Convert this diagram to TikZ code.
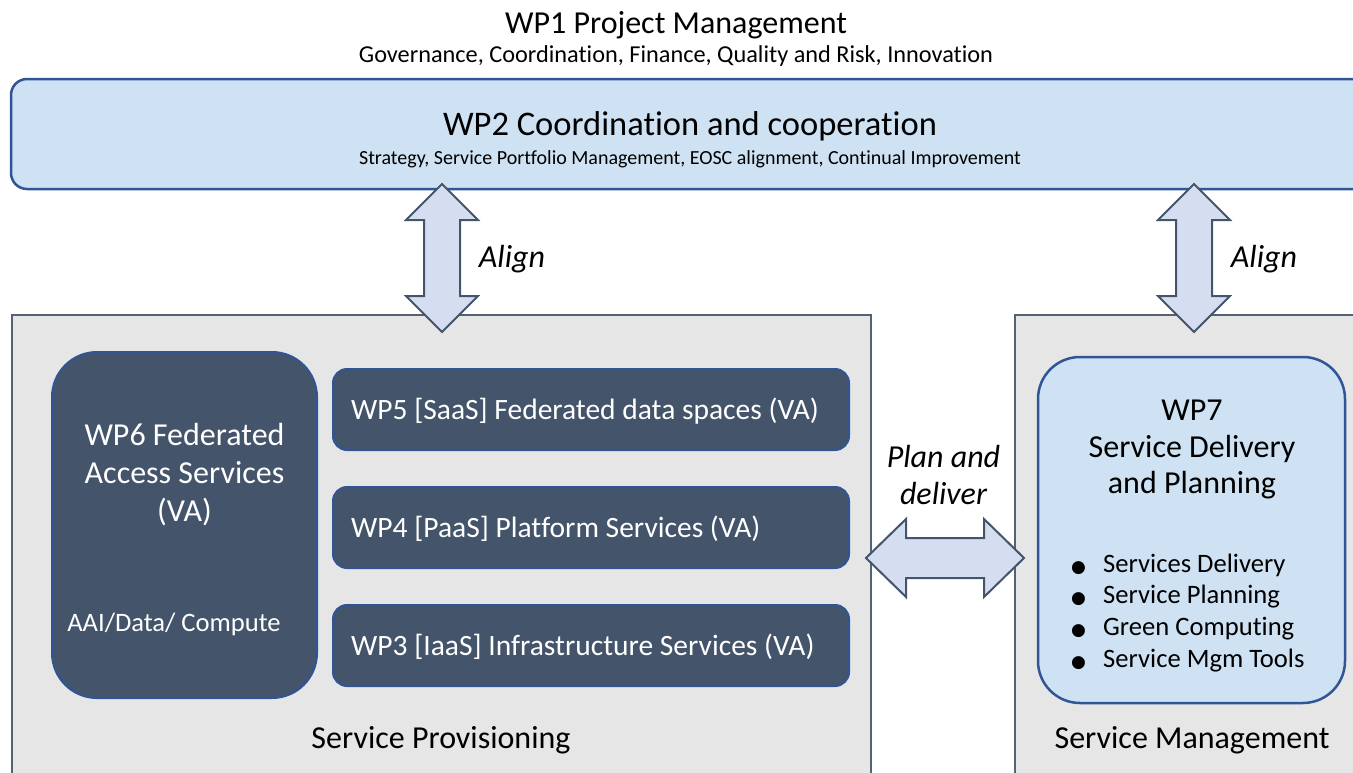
\documentclass[tikz,border=0pt]{standalone}
\usepackage{fontspec}
\setmainfont{Carlito}[Ligatures=NoCommon]
\newfontfamily\bulletfont{DejaVu Sans}
\usepackage{tikz}

\definecolor{wplight}{RGB}{207,226,243}
\definecolor{wpedge}{RGB}{47,85,151}
\definecolor{wpdark}{RGB}{68,84,106}
\definecolor{wpgrey}{RGB}{230,230,230}
\definecolor{greyedge}{RGB}{85,97,117}
\definecolor{arrowfill}{RGB}{213,222,240}

\tikzset{
  greybox/.style={draw=greyedge,fill=wpgrey,line width=1.5,inner sep=0},
  lightbox/.style={draw=wpedge,fill=wplight,line width=2.5,inner sep=0},
  darkbox/.style={draw=wpedge,fill=wpdark,line width=2,inner sep=0},
  blockarrow/.style={draw=wpdark,fill=arrowfill,line width=2,line join=miter},
  bigtext/.style={inner sep=0,font=\fontsize{32}{38}\selectfont},
  subtext/.style={inner sep=0,font=\fontsize{20}{24}\selectfont},
  boxtext/.style={inner sep=0,text=white,font=\fontsize{29.5}{35}\selectfont},
  itemtext/.style={inner sep=0,font=\fontsize{26.6}{32}\selectfont}
}

\begin{document}
\begin{tikzpicture}[x=1pt,y=1pt,yscale=-1,xscale=1]
\useasboundingbox (0,0) rectangle (1353,772);
\clip (0,0) rectangle (1353,772);

%Shape: Rounded Rect [WP2]
\node[lightbox, rounded corners=16, minimum width=1360, minimum height=110] (coord) at (691,134) {};
%Shape: Rectangle [provisioning]
\node[greybox, minimum width=859, minimum height=485] (prov) at (441.5,557.5) {};
%Shape: Rectangle [management]
\node[greybox, minimum width=365, minimum height=485] (mgmt) at (1197.5,557.5) {};

%Shape: Rounded Rect [WP6]
\node[darkbox, rounded corners=45, minimum width=265, minimum height=346] (wpsix) at (184.5,525) {};
%Shape: Rounded Rect [WP5]
\node[darkbox, rounded corners=14, minimum width=516, minimum height=81] (wpfive) at (591,409.5) {};
%Shape: Rounded Rect [WP4]
\node[darkbox, rounded corners=14, minimum width=516, minimum height=81] (wpfour) at (591,527.5) {};
%Shape: Rounded Rect [WP3]
\node[darkbox, rounded corners=14, minimum width=516, minimum height=81] (wpthree) at (591,645.5) {};
%Shape: Rounded Rect [WP7]
\node[lightbox, rounded corners=42, minimum width=307, minimum height=346] (wpseven) at (1191.5,530) {};

%Shape: Up Down Arrow [align left]
\draw[blockarrow] (442,184) -- (478,220) -- (460,220) -- (460,296) -- (478,296) -- (442,332) -- (406,296) -- (424,296) -- (424,220) -- (406,220) -- cycle;
%Shape: Up Down Arrow [align right]
\draw[blockarrow] (1194,184) -- (1230,220) -- (1212,220) -- (1212,296) -- (1230,296) -- (1194,332) -- (1158,296) -- (1176,296) -- (1176,220) -- (1158,220) -- cycle;
%Shape: Left Right Arrow [plan and deliver]
\draw[blockarrow] (866,558) -- (906,519) -- (906,538) -- (984,538) -- (984,519) -- (1024,558) -- (984,597) -- (984,578) -- (906,578) -- (906,597) -- cycle;

% Text Node
\node[bigtext, anchor=base] (wponetitle) at (676,33) {WP1 Project Management};
% Text Node
\node[subtext, font=\fontsize{24.3}{29}\selectfont, anchor=base] (wponesub) at (676,62) {Governance, Coordination, Finance, Quality and Risk, Innovation};
% Text Node
\node[bigtext, font=\fontsize{34.5}{41}\selectfont, anchor=base] (wptwotitle) at (690,135) {WP2 Coordination and cooperation};
% Text Node
\node[subtext, anchor=base] (wptwosub) at (690,164) {Strategy, Service Portfolio Management, EOSC alignment, Continual Improvement};

% Text Node
\node[bigtext, anchor=base] (alignleft) at (512,267) {\itshape Align};
% Text Node
\node[bigtext, anchor=base] (alignright) at (1264,267) {\itshape Align};
% Text Node
\node[bigtext, anchor=base] (planone) at (943.5,467) {\itshape Plan and};
% Text Node
\node[bigtext, anchor=base] (plantwo) at (943.5,504) {\itshape deliver};

% Text Node
\node[bigtext, text=white, anchor=base] (sixone) at (184.5,445) {WP6 Federated};
% Text Node
\node[bigtext, text=white, anchor=base] (sixtwo) at (184.5,483) {Access Services};
% Text Node
\node[bigtext, text=white, anchor=base] (sixthree) at (184.5,521) {(VA)};
% Text Node
\node[itemtext, text=white, anchor=base] (sixfour) at (174,631) {AAI/Data/ Compute};

% Text Node
\node[boxtext, anchor=base west] (fivetext) at (351,419.5) {WP5 [SaaS] Federated data spaces (VA)};
% Text Node
\node[boxtext, anchor=base west] (fourtext) at (351,537.5) {WP4 [PaaS] Platform Services (VA)};
% Text Node
\node[boxtext, anchor=base west] (threetext) at (351,655.5) {WP3 [IaaS] Infrastructure Services (VA)};

% Text Node
\node[bigtext, anchor=base] (sevenone) at (1192,420) {WP7};
% Text Node
\node[bigtext, anchor=base] (seventwo) at (1192,457) {Service Delivery};
% Text Node
\node[bigtext, anchor=base] (seventhree) at (1192,493) {and Planning};

% Text Node
\node[itemtext, anchor=base west] (itemone) at (1071,572) {\makebox[32pt][l]{\bulletfont\fontsize{17}{20}\selectfont ●}Services Delivery};
% Text Node
\node[itemtext, anchor=base west] (itemtwo) at (1071,603) {\makebox[32pt][l]{\bulletfont\fontsize{17}{20}\selectfont ●}Service Planning};
% Text Node
\node[itemtext, anchor=base west] (itemthree) at (1071,635) {\makebox[32pt][l]{\bulletfont\fontsize{17}{20}\selectfont ●}Green Computing};
% Text Node
\node[itemtext, anchor=base west] (itemfour) at (1071,667) {\makebox[32pt][l]{\bulletfont\fontsize{17}{20}\selectfont ●}Service Mgm Tools};

% Text Node
\node[bigtext, anchor=base] (provlabel) at (441,748) {Service Provisioning};
% Text Node
\node[bigtext, anchor=base] (mgmtlabel) at (1192,748) {Service Management};

\end{tikzpicture}
\end{document}
